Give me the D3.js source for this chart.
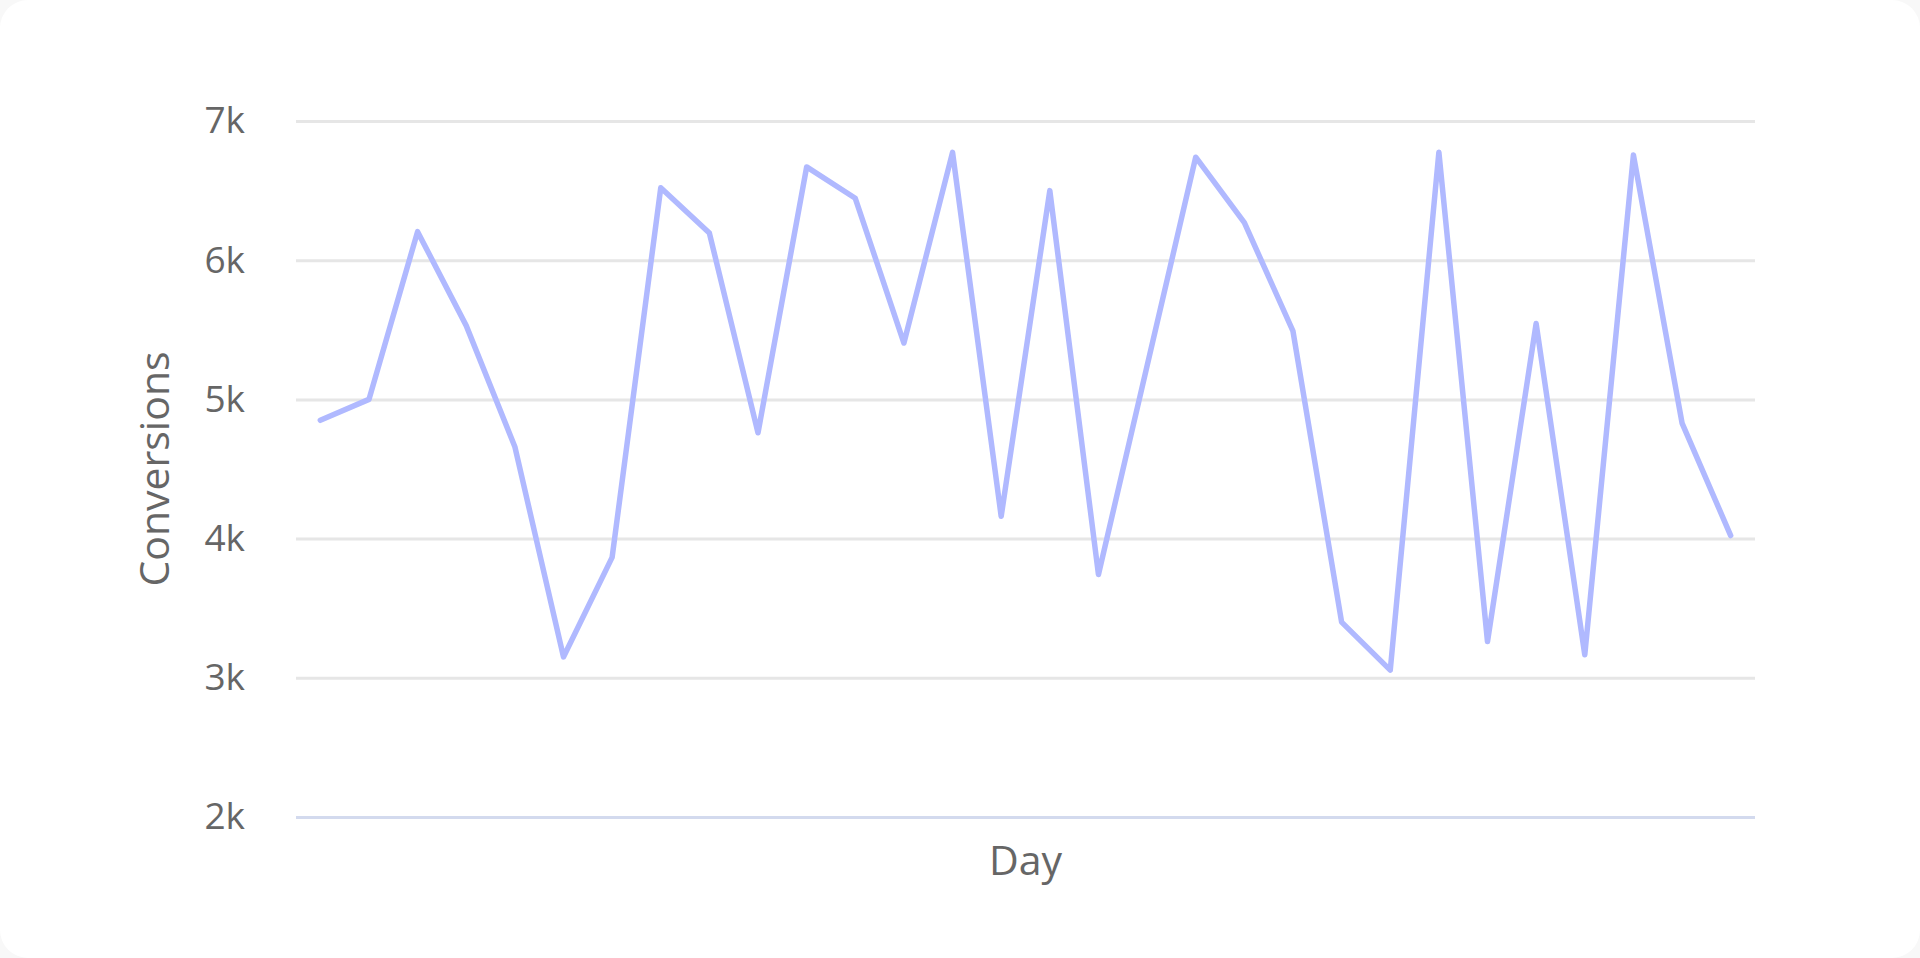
<!DOCTYPE html>
<html>
<head>
<meta charset="utf-8">
<script src="https://cdn.jsdelivr.net/npm/d3@7"></script>
<style>
  html, body { margin: 0; padding: 0; background: #f8f8f8; }
  #card { width: 1920px; height: 958px; background: #fff; border-radius: 28px; overflow: hidden; }
  text { font-family: "Open Sans", sans-serif; fill: #666; }
</style>
</head>
<body>
<div id="card"></div>
<script>
const WIDTH = 1920;
const HEIGHT = 958;
const MARGIN = { top: 121, right: 165, bottom: 141, left: 296 };
const LINE_COLOR = "#b0b9ff";

// 30 days of conversions
const days = d3.range(1, 31);
const conversions = [
    4850, 5000, 6205, 5530, 4660, 3150, 3865, 6520, 6195, 4760,
    6670, 6445, 5405, 6775, 4160, 6500, 3742, 5240, 6740, 6270,
    5490, 3400, 3055, 6775, 3260, 5545, 3165, 6755, 4830, 4022
];
const yTicks = [2000, 3000, 4000, 5000, 6000, 7000];

const innerW = WIDTH - MARGIN.left - MARGIN.right;
const innerH = HEIGHT - MARGIN.top - MARGIN.bottom;

const svg = d3.select("#card")
    .append("svg")
    .attr("width", WIDTH)
    .attr("height", HEIGHT);

const g = svg.append("g")
    .attr("transform", "translate(" + MARGIN.left + "," + MARGIN.top + ")");

const x = d3.scalePoint().domain(days).range([0, innerW]).padding(0.5);
const y = d3.scaleLinear().domain([2000, 7000]).range([innerH, 0]);

// gridlines + tick labels
const yAxis = g.append("g")
    .call(d3.axisLeft(y).tickValues(yTicks).tickSize(-innerW).tickPadding(51)
        .tickFormat(function (d) { return (d / 1000) + "k"; }));
yAxis.select(".domain").remove();
yAxis.selectAll(".tick line")
    .attr("stroke", function (d) { return d === 2000 ? "#d3daee" : "#e6e6e6"; })
    .attr("stroke-width", 3);
yAxis.selectAll(".tick text")
    .style("font-family", "'Open Sans', sans-serif")
    .style("font-size", "37px")
    .attr("fill", "#666");

// the series
const line = d3.line()
    .x(function (d, i) { return x(days[i]); })
    .y(function (d) { return y(d); });

g.append("path")
    .datum(conversions)
    .attr("d", line)
    .attr("fill", "none")
    .attr("stroke", LINE_COLOR)
    .attr("stroke-width", 5.5)
    .attr("stroke-linejoin", "round")
    .attr("stroke-linecap", "round");

// axis titles
svg.append("text")
    .attr("x", MARGIN.left + innerW / 2)
    .attr("y", 875)
    .attr("text-anchor", "middle")
    .style("font-size", "41px")
    .text("Day");

svg.append("text")
    .attr("transform", "translate(169," + (MARGIN.top + innerH / 2) + ") rotate(-90)")
    .attr("text-anchor", "middle")
    .style("font-size", "41px")
    .text("Conversions");
</script>
</body>
</html>
